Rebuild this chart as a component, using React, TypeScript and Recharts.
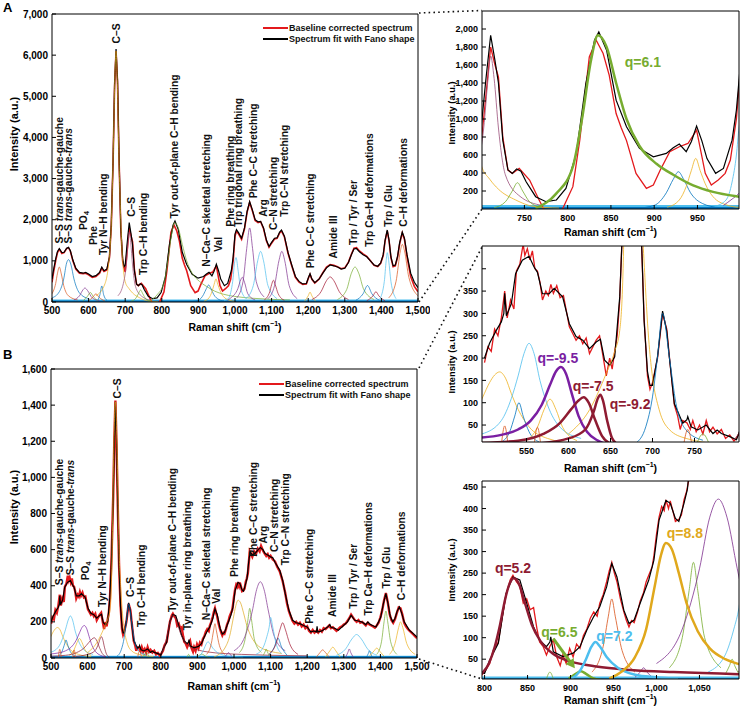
import React from 'react';
import { LineChart, Line, XAxis, YAxis, ReferenceDot, ReferenceLine, Legend } from 'recharts';

type Pt = [number, number];
type Note = [number, number, string];

const FONT = '"Liberation Sans", Arial, Helvetica, sans-serif';
const RED = '#e3191c';
const BLUE = '#0072BD';
const ORANGE = '#D95319';
const YELLOW = '#EDB120';
const PURPLE = '#7E2F8E';
const GREEN = '#77AC30';
const CYAN = '#4DBEEE';
const MAROON = '#A2142F';

// ---- panel A: spectrum + Fano fit ----
const aFit: Pt[] = [[500,560],[505,820],[510,1050],[515,1230],[520,1300],[527,1200],[533,1210],[540,1310],[545,1330],[550,1250],[557,1020],[565,820],[575,720],[585,700],[592,720],[600,680],[610,620],[620,640],[630,720],[636,850],[642,760],[650,800],[657,1100],[662,1900],[667,3500],[671,5300],[675,6150],[679,5400],[683,3600],[688,1800],[693,1050],[697,860],[700,895],[705,1394],[711,1930],[716,1650],[720,1400],[725,765],[731,433],[736,396],[741,445],[746,420],[752,303],[763,137],[775,81],[787,100],[798,229],[810,618],[821,1394],[831,1875],[836,1967],[845,1764],[856,1209],[868,913],[883,673],[899,580],[914,618],[922,680],[929,721],[937,636],[943,750],[949,921],[955,760],[961,560],[971,396],[980,451],[990,765],[995,1100],[1000,1650],[1004,1760],[1010,1680],[1018,1550],[1026,1800],[1033,2200],[1040,2440],[1047,2250],[1055,2000],[1063,1950],[1070,1960],[1078,1800],[1086,1500],[1093,1350],[1100,1450],[1108,1550],[1115,1560],[1122,1700],[1127,1750],[1135,1600],[1145,1200],[1155,900],[1165,620],[1175,500],[1185,440],[1195,450],[1201,600],[1205,690],[1210,560],[1218,470],[1230,560],[1240,700],[1250,830],[1260,900],[1270,880],[1280,850],[1290,800],[1300,820],[1310,960],[1318,1150],[1325,1290],[1332,1300],[1340,1220],[1350,1150],[1360,1100],[1370,1000],[1380,900],[1390,870],[1398,950],[1405,1150],[1410,1500],[1416,1750],[1421,1500],[1426,1100],[1432,880],[1438,900],[1444,1100],[1450,1450],[1457,1700],[1463,1550],[1470,1150],[1480,700],[1490,480],[1500,350]];

const aMeasured: Pt[] = [[500,480],[505,760],[510,1000],[515,1200],[520,1280],[527,1180],[533,1200],[540,1300],[545,1320],[550,1240],[557,1000],[565,800],[575,700],[585,690],[592,700],[600,660],[610,600],[620,620],[630,700],[636,820],[642,740],[650,780],[657,1080],[662,1850],[667,3450],[671,5250],[675,6100],[679,5350],[683,3550],[688,1750],[693,1000],[697,820],[700,728],[705,1209],[711,1800],[716,1600],[720,1468],[725,802],[731,433],[736,396],[744,451],[756,322],[767,100],[775,-48],[790,-85],[806,248],[814,765],[825,1690],[833,1875],[841,1727],[848,1487],[856,1061],[862,900],[868,760],[879,396],[891,229],[899,266],[907,433],[918,636],[929,692],[939,728],[949,876],[959,396],[966,266],[974,322],[982,396],[988,544],[995,1000],[1000,1600],[1004,1720],[1010,1650],[1018,1520],[1026,1780],[1033,2180],[1040,2420],[1047,2230],[1055,1980],[1063,1930],[1070,1950],[1078,1780],[1086,1480],[1093,1330],[1100,1430],[1108,1530],[1115,1550],[1122,1680],[1127,1730],[1135,1580],[1145,1180],[1155,880],[1165,600],[1175,480],[1185,430],[1195,440],[1201,590],[1205,670],[1210,550],[1218,460],[1230,560],[1240,710],[1250,850],[1260,910],[1270,890],[1280,860],[1290,810],[1300,830],[1310,970],[1318,1160],[1325,1310],[1332,1320],[1340,1240],[1350,1170],[1360,1110],[1370,1000],[1380,890],[1390,860],[1398,940],[1405,1130],[1410,1480],[1416,1730],[1421,1480],[1426,1080],[1432,860],[1438,880],[1444,1080],[1450,1420],[1457,1680],[1463,1520],[1470,1100],[1480,620],[1490,380],[1500,250]];

const aPeaks: Pt[][] = [
  [[500,200],[510,450],[515,700],[520,850],[525,700],[532,400],[545,150],[570,50]],
  [[500,100],[520,250],[532,560],[540,950],[545,1030],[552,900],[560,560],[575,220],[600,80]],
  [[560,50],[575,150],[585,300],[590,340],[597,280],[610,100],[630,30]],
  [[585,30],[597,140],[605,230],[612,140],[625,30]],
  [[600,30],[612,120],[620,200],[628,120],[645,20]],
  [[625,40],[631,180],[636,390],[641,180],[650,40]],
  [[620,150],[645,450],[660,1500],[667,3500],[672,5500],[675,6100],[678,5500],[683,3500],[690,1500],[700,490],[710,330],[720,220],[740,100],[760,30],[790,10]],
  [[680,150],[695,450],[703,900],[708,1450],[711,1700],[715,1450],[720,900],[728,380],[745,140],[770,40]],
  [[715,15],[728,80],[736,200],[742,292],[748,200],[756,80],[770,15]],
  [[763,7],[787,174],[806,470],[817,1024],[827,1653],[835,1930],[845,1800],[856,1400],[868,1000],[883,700],[903,500],[922,380],[945,262],[968,190],[998,137],[1050,90],[1150,50]],
  [[880,8],[900,40],[914,180],[922,330],[928,414],[934,330],[942,180],[956,60],[975,15]],
  [[915,20],[929,100],[937,250],[943,430],[948,562],[953,430],[959,280],[968,137],[984,44],[1000,15]],
  [[970,30],[983,100],[990,300],[995,600],[998,900],[1003,1080],[1008,800],[1015,350],[1030,80]],
  [[980,40],[990,110],[998,175],[1008,330],[1014,500],[1020,600],[1026,480],[1035,200],[1055,50]],
  [[1005,100],[1022,500],[1032,1300],[1040,1800],[1048,1300],[1058,500],[1080,120]],
  [[1030,80],[1050,400],[1062,1000],[1070,1230],[1078,1000],[1090,400],[1115,80]],
  [[1080,50],[1095,250],[1100,420],[1105,530],[1110,420],[1118,200],[1135,40]],
  [[1090,80],[1108,400],[1120,1000],[1128,1230],[1136,1000],[1148,400],[1170,80]],
  [[1190,20],[1200,150],[1205,240],[1210,150],[1220,20]],
  [[1210,60],[1235,250],[1250,520],[1260,610],[1270,520],[1285,250],[1310,60]],
  [[1280,60],[1305,300],[1318,700],[1328,850],[1338,700],[1352,300],[1380,60]],
  [[1330,40],[1350,200],[1362,400],[1374,200],[1395,40]],
  [[1360,30],[1377,150],[1385,250],[1393,150],[1410,30]],
  [[1395,60],[1408,500],[1413,1000],[1416,1200],[1420,1000],[1426,500],[1440,80]],
  [[1420,100],[1440,500],[1452,1250],[1457,1400],[1463,1250],[1475,600],[1500,150]],
];
const aPeakColors = [ORANGE, BLUE, PURPLE, GREEN, ORANGE, BLUE, YELLOW, '#9b4f7a', GREEN, GREEN, BLUE, YELLOW, CYAN, PURPLE, PURPLE, CYAN, MAROON, PURPLE, YELLOW, MAROON, GREEN, BLUE, MAROON, CYAN, ORANGE];
const aFloor: Pt[][] = [[[500,32],[1500,32]], [[500,10],[1500,10]]];

const aBands: Note[] = [
  [520,1420,'S–S *trans*-gauche-gauche'],
  [545,1420,'S–S *trans*-gauche-*trans*'],
  [585,1750,'PO_4'],
  [613,1385,'Phe'],
  [640,1140,'Tyr N–H bending'],
  [677,6285,'C–S'],
  [716,2070,'C–S'],
  [750,656,'Trp C–H bending'],
  [833,2030,'Tyr out-of-plane C–H bending'],
  [922,860,'N–Ca–C skeletal stretching'],
  [954,1220,'Val'],
  [986,1830,'Phe ring breathing'],
  [1009,1830,'Trp trigonal ring breathing'],
  [1050,2520,'Phe C–C stretching'],
  [1077,2070,'Arg'],
  [1105,1750,'C–N stretching'],
  [1135,2070,'Trp C–N stretching'],
  [1205,818,'Phe C–C stretching'],
  [1269,1060,'Amide III'],
  [1323,1385,'Trp / Tyr / Ser'],
  [1366,1345,'Trp Ca–H deformations'],
  [1419,1830,'Trp / Glu'],
  [1460,1830,'C–H deformations'],
];

// ---- panel B ----
const bFit: Pt[] = [[500,200],[506,233],[514,262],[520,281],[523,300],[524,345],[526,295],[532,322],[537,389],[545,419],[553,428],[559,404],[563,392],[569,344],[577,344],[583,356],[593,337],[601,277],[609,248],[617,240],[625,221],[633,236],[638,242],[643,195],[649,184],[655,203],[661,337],[665,523],[670,892],[673,1200],[676,1418],[679,1200],[682,892],[686,520],[690,283],[694,170],[697,139],[700,139],[706,203],[712,305],[717,260],[720,203],[726,98],[736,54],[741,62],[742,69],[746,46],[754,39],[764,50],[772,31],[777,39],[782,31],[792,24],[800,17],[806,48],[816,87],[825,203],[833,241],[841,234],[849,180],[857,125],[864,94],[872,79],[876,90],[877,102],[880,67],[891,56],[903,64],[911,79],[919,118],[927,149],[934,172],[942,218],[948,272],[954,241],[962,164],[968,133],[974,141],[981,180],[991,234],[997,280],[1003,373],[1011,419],[1016,412],[1022,377],[1026,370],[1032,412],[1036,445],[1040,530],[1044,590],[1050,569],[1058,580],[1065,597],[1072,612],[1079,600],[1085,578],[1092,570],[1100,560],[1106,555],[1112,530],[1125,486],[1133,430],[1140,356],[1150,264],[1160,209],[1170,195],[1180,190],[1190,180],[1200,172],[1210,144],[1218,150],[1225,144],[1227,175],[1229,144],[1240,150],[1250,163],[1258,175],[1262,185],[1265,170],[1275,165],[1285,153],[1300,181],[1310,200],[1320,236],[1330,209],[1340,205],[1350,199],[1360,185],[1366,200],[1370,190],[1378,180],[1388,172],[1395,200],[1401,227],[1408,300],[1415,357],[1421,300],[1427,230],[1434,200],[1440,220],[1446,260],[1452,283],[1458,250],[1465,200],[1479,154],[1490,135],[1500,116]];

const bMeasured: Pt[] = [[500,190],[504,225],[508,215],[512,265],[516,250],[520,290],[524,350],[527,290],[531,330],[535,310],[538,395],[542,410],[546,455],[548,430],[551,445],[554,420],[557,440],[560,400],[563,395],[566,370],[569,330],[573,350],[576,340],[579,365],[582,345],[586,362],[590,335],[594,340],[598,300],[601,270],[605,255],[609,240],[613,250],[617,232],[621,245],[625,210],[629,225],[633,240],[637,250],[641,205],[645,160],[649,200],[652,175],[655,215],[658,250],[661,330],[665,530],[670,900],[673,1210],[676,1425],[679,1190],[682,880],[686,510],[690,290],[694,160],[697,130],[700,145],[706,200],[712,300],[717,265],[720,205],[726,95],[730,70],[733,40],[736,60],[741,55],[745,40],[748,60],[752,35],[756,50],[760,30],[764,60],[768,35],[772,45],[777,30],[782,40],[787,20],[792,28],[797,14],[800,20],[806,40],[810,70],[816,90],[820,140],[825,200],[830,235],[833,245],[837,230],[841,220],[845,180],[849,190],[853,165],[857,170],[861,120],[864,90],[868,80],[872,60],[876,80],[880,95],[884,55],[888,35],[891,60],[895,40],[899,75],[903,55],[907,85],[911,75],[915,105],[919,120],[923,145],[927,160],[931,150],[934,180],[938,200],[942,230],[945,255],[948,275],[951,250],[954,230],[958,190],[962,160],[965,140],[968,125],[971,140],[974,135],[978,160],[981,185],[985,205],[988,230],[991,245],[995,265],[997,290],[1000,340],[1003,380],[1006,405],[1009,395],[1011,420],[1014,400],[1016,418],[1019,395],[1022,370],[1026,375],[1029,385],[1032,420],[1035,440],[1038,470],[1043,590],[1050,560],[1055,590],[1060,575],[1065,605],[1070,590],[1074,620],[1079,595],[1083,580],[1088,565],[1092,575],[1096,555],[1100,565],[1106,545],[1112,535],[1118,505],[1125,480],[1133,425],[1140,360],[1145,300],[1150,260],[1155,230],[1160,205],[1165,190],[1170,200],[1175,185],[1180,195],[1185,175],[1190,185],[1195,165],[1200,175],[1205,150],[1210,140],[1215,155],[1220,140],[1225,150],[1230,140],[1235,155],[1240,145],[1245,165],[1250,160],[1255,170],[1260,180],[1265,165],[1270,170],[1275,160],[1280,150],[1285,160],[1290,170],[1295,175],[1300,185],[1305,190],[1310,205],[1315,220],[1320,240],[1325,225],[1330,210],[1335,200],[1340,210],[1345,195],[1350,200],[1355,190],[1360,180],[1365,195],[1370,185],[1375,180],[1380,175],[1385,168],[1390,180],[1395,195],[1400,225],[1405,265],[1410,320],[1415,360],[1420,310],[1425,245],[1430,210],[1435,195],[1440,215],[1445,250],[1450,280],[1455,275],[1460,240],[1465,195],[1470,175],[1475,160],[1480,150],[1485,140],[1490,130],[1495,120],[1500,110]];

const bPeaks: Pt[][] = [
  [[490,80],[498,113],[506,145],[512,162],[518,169],[525,155],[532,120],[540,85],[553,46],[575,20],[610,8]],
  [[497,30],[520,60],[532,110],[540,160],[547,210],[553,233],[559,210],[566,150],[575,95],[590,45],[615,20]],
  [[520,12],[530,35],[536,70],[541,100],[546,70],[553,35],[565,12]],
  [[550,15],[563,45],[571,85],[578,108],[585,85],[593,45],[610,15]],
  [[497,22],[520,28],[540,40],[555,60],[568,95],[578,140],[585,170],[591,180],[597,165],[604,120],[612,70],[622,35],[635,15],[650,5]],
  [[497,10],[540,15],[570,30],[590,55],[603,85],[612,105],[618,112],[624,100],[632,60],[640,25],[650,8]],
  [[560,8],[600,20],[620,40],[630,80],[635,110],[638,118],[641,105],[646,60],[652,20],[660,5]],
  [[520,5],[524,48],[528,5]],
  [[559,5],[563,45],[567,5]],
  [[600,30],[625,84],[645,166],[655,215],[661,262],[665,400],[668,700],[671,1100],[676,1418],[681,1100],[686,600],[691,380],[696,230],[700,158],[708,84],[720,40],[740,20],[780,8]],
  [[680,9],[692,46],[700,113],[706,203],[712,300],[720,203],[728,98],[740,39],[760,16]],
  [[737,5],[742,40],[747,5]],
  [[752,5],[760,30],[768,5]],
  [[797,17],[805,40],[812,80],[818,130],[824,190],[829,225],[834,238],[840,225],[847,180],[855,130],[865,92],[880,62],[900,45],[930,33],[970,25],[1020,20],[1100,15],[1200,12]],
  [[898,5],[906,16],[912,22],[918,16],[926,6],[935,2]],
  [[900,4],[910,20],[918,50],[924,78],[929,90],[934,80],[942,55],[955,30],[975,14],[1000,8],[1025,4]],
  [[925,20],[938,80],[944,150],[948,190],[952,150],[960,70],[975,20]],
  [[945,5],[960,22],[975,55],[988,120],[998,220],[1005,290],[1011,320],[1018,305],[1026,250],[1035,180],[1048,115],[1062,75],[1080,50],[1097,38],[1130,25]],
  [[975,8],[981,20],[985,30],[989,20],[995,8]],
  [[1015,30],[1030,100],[1038,210],[1043,275],[1048,210],[1056,100],[1075,30]],
  [[1000,40],[1030,120],[1050,260],[1062,380],[1072,422],[1082,380],[1094,260],[1110,120],[1140,40]],
  [[1060,20],[1080,60],[1090,120],[1096,170],[1100,225],[1106,170],[1115,80],[1130,25]],
  [[1095,15],[1110,60],[1120,110],[1130,60],[1145,15]],
  [[1095,20],[1115,80],[1126,160],[1133,195],[1140,160],[1152,80],[1175,20]],
  [[1080,15],[1085,35],[1088,50],[1091,35],[1096,15]],
  [[872,4],[876,20],[880,4]],
  [[1225,5],[1235,30],[1242,45],[1250,30],[1260,5]],
  [[1250,5],[1262,40],[1270,60],[1278,40],[1290,5]],
  [[1305,5],[1311,30],[1315,50],[1319,30],[1326,5]],
  [[1280,15],[1305,50],[1322,105],[1335,130],[1348,105],[1365,50],[1390,15]],
  [[1362,5],[1367,25],[1370,40],[1373,25],[1378,5]],
  [[1370,10],[1383,40],[1390,55],[1397,40],[1410,10]],
  [[1390,20],[1403,90],[1410,200],[1415,260],[1420,200],[1428,90],[1445,20]],
  [[1425,20],[1440,80],[1450,170],[1455,200],[1461,170],[1472,80],[1495,20]],
];
const bPeakColors = [YELLOW, CYAN, BLUE, YELLOW, '#7a1fa2', '#8e1b32', '#8e1b32', ORANGE, ORANGE, YELLOW, BLUE, ORANGE, GREEN, '#8e1b32', GREEN, CYAN, ORANGE, '#e0a81c', PURPLE, GREEN, PURPLE, CYAN, BLUE, MAROON, GREEN, GREEN, ORANGE, YELLOW, PURPLE, CYAN, BLUE, YELLOW, GREEN, YELLOW];
const bFloor: Pt[][] = [[[500,7],[1500,7]], [[500,3],[1500,3]]];

const bBands: Note[] = [
  [524,403,'S–S *trans*-gauche-gauche'],
  [553,458,'S–S *trans*-gauche-*trans*'],
  [594,430,'PO_4'],
  [639,283,'Tyr N–H bending'],
  [680,1437,'C–S'],
  [716,338,'C–S'],
  [748,172,'Trp C–H bending'],
  [831,255,'Tyr out-of-plane C–H bending'],
  [873,153,'Tyr in-plane ring breathing'],
  [925,209,'N–Ca–C skeletal stretching'],
  [952,301,'Val'],
  [1002,449,'Phe ring breathing'],
  [1052,560,'Phe C–C stretching'],
  [1079,634,'Arg'],
  [1111,587,'C–N stretching'],
  [1141,513,'Trp C–N stretching'],
  [1207,190,'Phe C–C stretching'],
  [1268,227,'Amide III'],
  [1325,273,'Trp / Tyr / Ser'],
  [1366,236,'Trp Ca–H deformations'],
  [1417,385,'Trp / Glu'],
  [1458,320,'C–H deformations'],
];

// ---- zoomed insets: Fano asymmetry labels ----
const topNotes: Note[] = [[866,1634,'q=6.1']];
const topNoteColors = [GREEN];
const midNotes: Note[] = [[563,200,'q=-9.5'],[605,138,'q=-7.5'],[649,97,'q=-9.2']];
const midNoteColors = ['#7a1fa2', '#8e1b32', '#8e1b32'];
const lowNotes: Note[] = [[812,261,'q=5.2'],[866,114,'q=6.5'],[930,104,'q=7.2'],[1012,343,'q=8.8']];
const lowNoteColors = ['#8e1b32', GREEN, CYAN, '#e0a81c'];
const lowArrow: Pt[] = [[880,98],[905,29]];

const legendLabels = ['Baseline corrected spectrum', 'Spectrum fit with Fano shape'];
const legendColors = [RED, '#000'];

const fmt = (v: number) => v.toLocaleString('en-US');
const rows = (p: Pt[]) => p.map(([x, y]) => ({ x, y }));

function rich(text: string, size: number) {
  const out: React.ReactNode[] = [];
  text.split('*').forEach((part, i) => {
    if (i % 2 === 1) {
      out.push(<tspan key={i} fontStyle="italic">{part}</tspan>);
      return;
    }
    part.split('_').forEach((s, j) => {
      out.push(j === 0
        ? <tspan key={`${i}-${j}`}>{s}</tspan>
        : <tspan key={`${i}-${j}`} fontSize={size * 0.7} dy={2}>{s}</tspan>);
    });
  });
  return out;
}

const bandShape = (text: string, size: number) => (p: any) => (
  <text x={p.cx} y={p.cy} dy="0.36em" transform={`rotate(-90 ${p.cx} ${p.cy})`}
    fontFamily={FONT} fontWeight="bold" fontSize={size} fill="#111">{rich(text, size)}</text>
);

const noteShape = (text: string, color: string) => (p: any) => (
  <text x={p.cx} y={p.cy} dominantBaseline="central" fontFamily={FONT} fontWeight="bold" fontSize={14} fill={color}>{text}</text>
);

const arrowShape = (color: string) => (p: any) => {
  const { x1, y1, x2, y2 } = p;
  const a = Math.atan2(y2 - y1, x2 - x1);
  const bx = x2 - 9 * Math.cos(a);
  const by = y2 - 9 * Math.sin(a);
  const s = Math.sin(a) * 5;
  const c = Math.cos(a) * 5;
  return (
    <g>
      <line x1={x1} y1={y1} x2={bx} y2={by} stroke={color} strokeWidth={3} />
      <polygon points={`${x2},${y2} ${bx - s},${by + c} ${bx + s},${by - c}`} fill={color} />
    </g>
  );
};

const LegendBox = () => (
  <div style={{ fontFamily: FONT, fontWeight: 'bold', fontSize: 9, lineHeight: '11px', color: '#111', whiteSpace: 'nowrap' }}>
    {legendLabels.map((t, i) => (
      <div key={t} style={{ display: 'flex', alignItems: 'center' }}>
        <span style={{ display: 'inline-block', width: 25, height: 1.6, background: legendColors[i], marginRight: 1 }} />
        {t}
      </div>
    ))}
  </div>
);

type PanelProps = {
  left: number; top: number; width: number; height: number;
  mTop: number; mRight: number; mBottom: number; yWidth: number;
  xDomain: [number, number]; yDomain: [number, number];
  xTicks: number[]; yTicks: number[]; hideY?: number;
  tickFont: number; xGap: number;
  measured: Pt[]; fit: Pt[]; redWidth: number;
  peaks: Pt[][]; peakColors: string[]; thick?: number[]; thin: number;
  floor: Pt[][];
  bands?: Note[]; bandFont?: number;
  notes?: Note[]; noteColors?: string[];
  arrow?: Pt[]; arrowColor?: string;
  legend?: [number, number];
  xTitleDy: number; yTitle: [number, number]; yTitleSize: number;
};

function Panel(p: PanelProps) {
  const tick = { fill: '#000', fontSize: p.tickFont, fontWeight: 'bold', fontFamily: FONT };
  const thick = p.thick || [];
  const order = p.peaks.map((_, i) => i).filter((i) => !thick.includes(i)).concat(thick);
  const xTitle = (lp: any) => {
    const vb = lp.viewBox;
    return (
      <text x={vb.x + vb.width / 2} y={vb.y + p.xTitleDy} textAnchor="middle" dominantBaseline="central"
        fontFamily={FONT} fontWeight="bold" fontSize={10.5} fill="#000">
        Raman shift (cm<tspan dy={-4} fontSize={7}>−1</tspan><tspan dy={4}>)</tspan>
      </text>
    );
  };
  const yTitle = () => (
    <text x={p.yTitle[0]} y={p.yTitle[1]} transform={`rotate(-90 ${p.yTitle[0]} ${p.yTitle[1]})`}
      textAnchor="middle" dominantBaseline="central" fontFamily={FONT} fontWeight="bold" fontSize={p.yTitleSize} fill="#000">
      Intensity (a.u.)
    </text>
  );
  const common = { dot: false, activeDot: false, isAnimationActive: false, legendType: 'none' as const, dataKey: 'y' };
  return (
    <div style={{ position: 'absolute', left: p.left, top: p.top }}>
      <LineChart width={p.width} height={p.height} margin={{ top: p.mTop, right: p.mRight, bottom: p.mBottom, left: 0 }}>
        <XAxis type="number" dataKey="x" domain={p.xDomain} ticks={p.xTicks} interval={0} allowDataOverflow
          tickFormatter={fmt} height={30} tickSize={-4} tickMargin={p.xGap} stroke="#000" tick={tick} label={xTitle} />
        <XAxis xAxisId="top" orientation="top" type="number" dataKey="x" domain={p.xDomain} ticks={p.xTicks}
          interval={0} allowDataOverflow height={1} tickSize={-4} tick={false} stroke="#000" />
        <YAxis type="number" domain={p.yDomain} ticks={p.yTicks} interval={0} allowDataOverflow width={p.yWidth}
          tickFormatter={(v: number) => (v === p.hideY ? '' : fmt(v))} tickSize={-4} tickMargin={8} stroke="#000" tick={tick} label={yTitle} />
        <YAxis yAxisId="right" orientation="right" type="number" domain={p.yDomain} ticks={p.yTicks} interval={0}
          allowDataOverflow width={1} tickSize={-4} tick={false} stroke="#000" />
        {p.floor.map((f, i) => (
          <Line key={`f${i}`} {...common} data={rows(f)} stroke={i === 0 ? CYAN : BLUE} strokeWidth={2.2} />
        ))}
        <Line {...common} data={rows(p.measured)} stroke={RED} strokeWidth={p.redWidth} />
        <Line {...common} data={rows(p.fit)} stroke="#000" strokeWidth={1.2} />
        {order.map((i) => (
          <Line key={`p${i}`} {...common} type="monotone" data={rows(p.peaks[i])} stroke={p.peakColors[i]}
            strokeWidth={thick.includes(i) ? 2.5 : p.thin} />
        ))}
        {(p.bands || []).map(([x, y, t], i) => (
          <ReferenceDot key={`b${i}`} x={x} y={y} r={0} shape={bandShape(t, p.bandFont || 10)} />
        ))}
        {(p.notes || []).map(([x, y, t], i) => (
          <ReferenceDot key={`n${i}`} x={x} y={y} r={0} shape={noteShape(t, (p.noteColors || [])[i])} />
        ))}
        {p.arrow && (
          <ReferenceLine segment={[{ x: p.arrow[0][0], y: p.arrow[0][1] }, { x: p.arrow[1][0], y: p.arrow[1][1] }]}
            shape={arrowShape(p.arrowColor || GREEN)} />
        )}
        {p.legend && (
          <Legend layout="vertical" align="center" verticalAlign="middle" content={() => <LegendBox />}
            wrapperStyle={{ top: p.legend[1], left: p.legend[0], width: 'auto', height: 'auto' }} />
        )}
      </LineChart>
    </div>
  );
}

const mainX = [500, 600, 700, 800, 900, 1000, 1100, 1200, 1300, 1400, 1500];

export default function App() {
  const dots = { stroke: '#111', strokeWidth: 1.6, strokeDasharray: '1.6 3.2' };
  return (
    <div style={{ position: 'absolute', left: 0, top: 0, width: 743, height: 710, background: '#fff', overflow: 'hidden' }}>
      <Panel left={0} top={0} width={430} height={340} mTop={13} mRight={11} mBottom={8} yWidth={52}
        xDomain={[500, 1500]} yDomain={[0, 7000]} xTicks={mainX} yTicks={[0, 1000, 2000, 3000, 4000, 5000, 6000, 7000]}
        tickFont={10} xGap={9} measured={aMeasured} fit={aFit} redWidth={1.6}
        peaks={aPeaks} peakColors={aPeakColors} thin={0.7} floor={aFloor} bands={aBands} bandFont={10.3}
        legend={[263, 22.5]} xTitleDy={25} yTitle={[14, 134]} yTitleSize={11} />
      <Panel left={0} top={355} width={430} height={341} mTop={13} mRight={12} mBottom={8} yWidth={51}
        xDomain={[500, 1500]} yDomain={[0, 1600]} xTicks={mainX} yTicks={[0, 200, 400, 600, 800, 1000, 1200, 1400, 1600]}
        tickFont={10} xGap={9} measured={bMeasured} fit={bFit} redWidth={2.4}
        peaks={bPeaks} peakColors={bPeakColors} thin={0.7} floor={bFloor} bands={bBands} bandFont={10.3}
        legend={[259, 23.5]} xTitleDy={28} yTitle={[14, 152]} yTitleSize={11} />
      <Panel left={440} top={0} width={303} height={239} mTop={10} mRight={3} mBottom={0} yWidth={42}
        xDomain={[701, 998]} yDomain={[0, 2200]} xTicks={[750, 800, 850, 900, 950]}
        yTicks={[200, 400, 600, 800, 1000, 1200, 1400, 1600, 1800, 2000]}
        tickFont={9} xGap={10} measured={aMeasured} fit={aFit} redWidth={1.3}
        peaks={aPeaks} peakColors={aPeakColors} thick={[9]} thin={0.8} floor={aFloor}
        notes={topNotes} noteColors={topNoteColors} xTitleDy={23} yTitle={[12, 113]} yTitleSize={9.3} />
      <Panel left={440} top={235} width={303} height={241} mTop={10} mRight={3} mBottom={4} yWidth={42}
        xDomain={[497, 803]} yDomain={[12, 451]} xTicks={[550, 600, 650, 700, 750]}
        yTicks={[50, 100, 150, 200, 250, 300, 350, 400]} hideY={400}
        tickFont={9} xGap={10} measured={bMeasured} fit={bFit} redWidth={1.3}
        peaks={bPeaks} peakColors={bPeakColors} thick={[4, 5, 6]} thin={0.8} floor={bFloor}
        notes={midNotes} noteColors={midNoteColors} xTitleDy={26} yTitle={[12, 127]} yTitleSize={9.3} />
      <Panel left={440} top={470} width={303} height={239} mTop={10} mRight={3} mBottom={0} yWidth={42}
        xDomain={[797, 1096]} yDomain={[4, 464]} xTicks={[800, 850, 900, 950, 1000, 1050]}
        yTicks={[50, 100, 150, 200, 250, 300, 350, 400, 450]}
        tickFont={9} xGap={10} measured={bMeasured} fit={bFit} redWidth={1.3}
        peaks={bPeaks} peakColors={bPeakColors} thick={[13, 14, 15, 17]} thin={0.8} floor={bFloor}
        notes={lowNotes} noteColors={lowNoteColors} arrow={lowArrow} arrowColor={GREEN}
        xTitleDy={21} yTitle={[12, 100]} yTitleSize={9.3} />
      <svg width={743} height={710} style={{ position: 'absolute', left: 0, top: 0, pointerEvents: 'none' }}>
        <line x1={419} y1={13} x2={482} y2={10.5} {...dots} />
        <line x1={419} y1={302} x2={482} y2={209} {...dots} />
        <line x1={419} y1={368} x2={482} y2={247} {...dots} />
        <line x1={419} y1={659} x2={482} y2={679} {...dots} />
      </svg>
      <div style={{ position: 'absolute', left: 3, top: 0, font: `bold 13px ${FONT}` }}>A</div>
      <div style={{ position: 'absolute', left: 3, top: 347, font: `bold 13px ${FONT}` }}>B</div>
    </div>
  );
}
